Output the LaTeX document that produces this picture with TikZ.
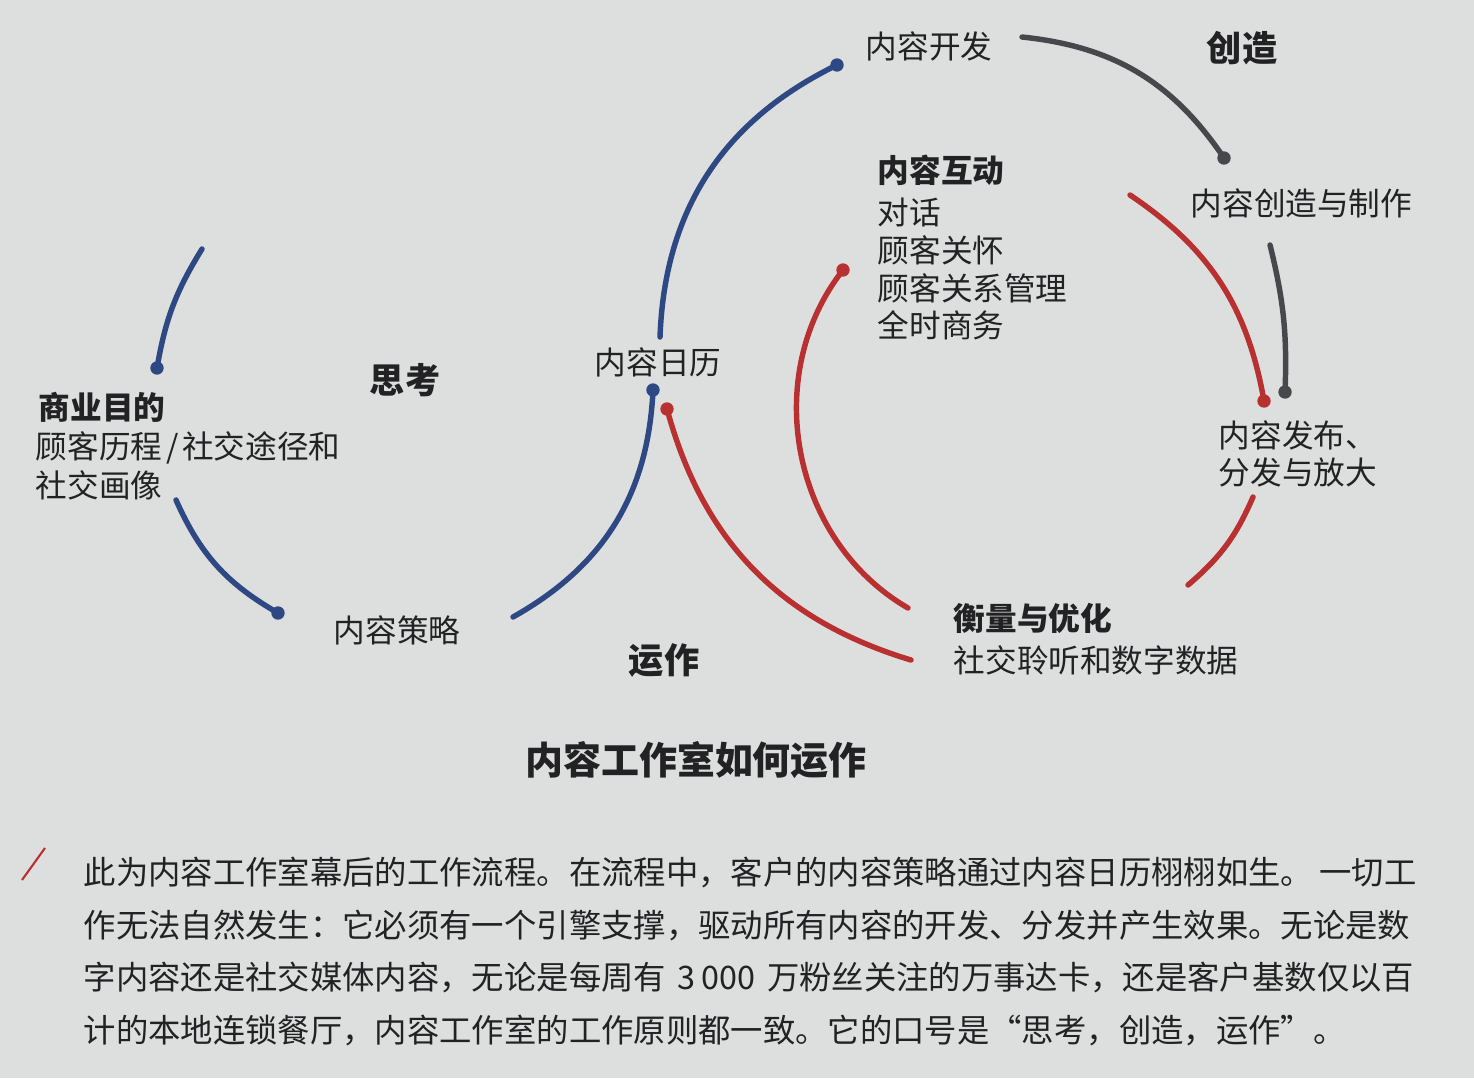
\documentclass[tikz,border=0pt]{standalone}
\usepackage{fontspec}
\setmainfont{Noto Sans CJK SC}
\definecolor{paper}{RGB}{221,223,222}
\definecolor{ink}{RGB}{34,34,36}
\definecolor{thinkblue}{RGB}{46,72,132}
\definecolor{makegray}{RGB}{72,72,76}
\definecolor{runred}{RGB}{184,48,48}
\tikzset{
  lbl/.style={anchor=west, inner sep=0pt, text=ink, font=\fontsize{9}{11}\selectfont},
  hd/.style={lbl, font=\fontsize{9}{11}\selectfont\bfseries},
  phase/.style={inner sep=0pt, text=ink, font=\fontsize{10}{12}\selectfont\bfseries},
  captxt/.style={anchor=west, inner sep=0pt, text=ink, font=\fontsize{9.2}{11}\selectfont},
  arcline/.style={line width=1.55pt, line cap=round},
  dotr/.style={radius=1.9pt}
}
\begin{document}
\begin{tikzpicture}[x=0.01cm, y=-0.01cm]
% page
\fill[paper] (0,0) rectangle (1474,1078);
\useasboundingbox (0,0) rectangle (1474,1078);

% ---------- labels ----------
\node[hd]  (goal)    at (38,407)  {商业目的};
\node[lbl] (goal2)   at (35,448)  {顾客历程\hspace{0.12em}/\hspace{0.12em}社交途径和};
\node[lbl] (goal3)   at (35,485)  {社交画像};
\node[phase] (think) at (405,380) {思考};
\node[lbl] (strat)   at (333,630) {内容策略};
\node[lbl] (cal)     at (594,362) {内容日历};
\node[lbl] (dev)     at (865,46)  {内容开发};
\node[phase] (create) at (1242,48) {创造};
\node[hd]  (engage)  at (877,170) {内容互动};
\node[lbl] (eng1)    at (877,212) {对话};
\node[lbl] (eng2)    at (877,250) {顾客关怀};
\node[lbl] (eng3)    at (877,288) {顾客关系管理};
\node[lbl] (eng4)    at (877,325) {全时商务};
\node[lbl] (prod)    at (1190,203) {内容创造与制作};
\node[lbl] (pub1)    at (1218,435) {内容发布、};
\node[lbl] (pub2)    at (1218,472) {分发与放大};
\node[hd]  (measure) at (953,618) {衡量与优化};
\node[lbl] (meas2)   at (953,660) {社交聆听和数字数据};
\node[phase] (run)   at (664,660) {运作};
\node[inner sep=0pt, text=ink, font=\fontsize{10.8}{14}\selectfont\bfseries] (title) at (696,760) {内容工作室如何运作};

% ---------- arc end points ----------
\coordinate (tA) at (202,249);  \coordinate (dA) at (157,368);
\coordinate (tB) at (176,500);  \coordinate (dB) at (278,613);
\coordinate (tC) at (513,617);  \coordinate (dC) at (653,390);
\coordinate (tD) at (660,337);  \coordinate (dD) at (837,65);
\coordinate (tE) at (1022,37);  \coordinate (dE) at (1224,158);
\coordinate (tF) at (1270,245); \coordinate (dF) at (1285,392);
\coordinate (tG) at (1130,195); \coordinate (dG) at (1264,401);
\coordinate (tH) at (1253,497); \coordinate (eH) at (1188,585);
\coordinate (dI) at (843,270);  \coordinate (eI) at (908,608);
\coordinate (dJ) at (667,409);  \coordinate (eJ) at (911,660);

% ---------- think (blue) ----------
\draw[arcline, thinkblue] (tA) to[bend right=11] (dA);
\draw[arcline, thinkblue] (tB) to[bend right=18] (dB);
\draw[arcline, thinkblue] (tC) to[bend right=29] (dC);
\draw[arcline, thinkblue] (tD) to[bend left=31] (dD);
\fill[thinkblue] (dA) circle[dotr] (dB) circle[dotr] (dC) circle[dotr] (dD) circle[dotr];

% ---------- create (gray) ----------
\draw[arcline, makegray] (tE) to[bend left=25] (dE);
\draw[arcline, makegray] (tF) to[bend left=8] (dF);
\fill[makegray] (dE) circle[dotr] (dF) circle[dotr];

% ---------- run (red) ----------
\draw[arcline, runred] (tG) to[bend left=23] (dG);
\draw[arcline, runred] (tH) to[bend left=13] (eH);
\draw[arcline, runred] (dI) to[bend right=49] (eI);
\draw[arcline, runred] (dJ) to[bend right=29] (eJ);
\fill[runred] (dG) circle[dotr] (dI) circle[dotr] (dJ) circle[dotr];

% ---------- caption ----------
\coordinate (sl1) at (22,880); \coordinate (sl2) at (45,848);
\draw[runred, line width=0.6pt] (sl1) -- (sl2);
\node[captxt] (c1) at (83,872)  {此为内容工作室幕后的工作流程。在流程中，客户的内容策略通过内容日历栩栩如生。\hspace{0.2em}一切工};
\node[captxt] (c2) at (83,925)  {作无法自然发生：它必须有一个引擎支撑，驱动所有内容的开发、分发并产生效果。无论是数};
\node[captxt] (c3) at (83,977)  {字内容还是社交媒体内容，无论是每周有\hspace{0.35em}3\hspace{0.2em}000\hspace{0.35em}万粉丝关注的万事达卡，还是客户基数仅以百};
\node[captxt] (c4) at (83,1030) {计的本地连锁餐厅，内容工作室的工作原则都一致。它的口号是“思考，创造，运作”。};
\end{tikzpicture}
\end{document}
